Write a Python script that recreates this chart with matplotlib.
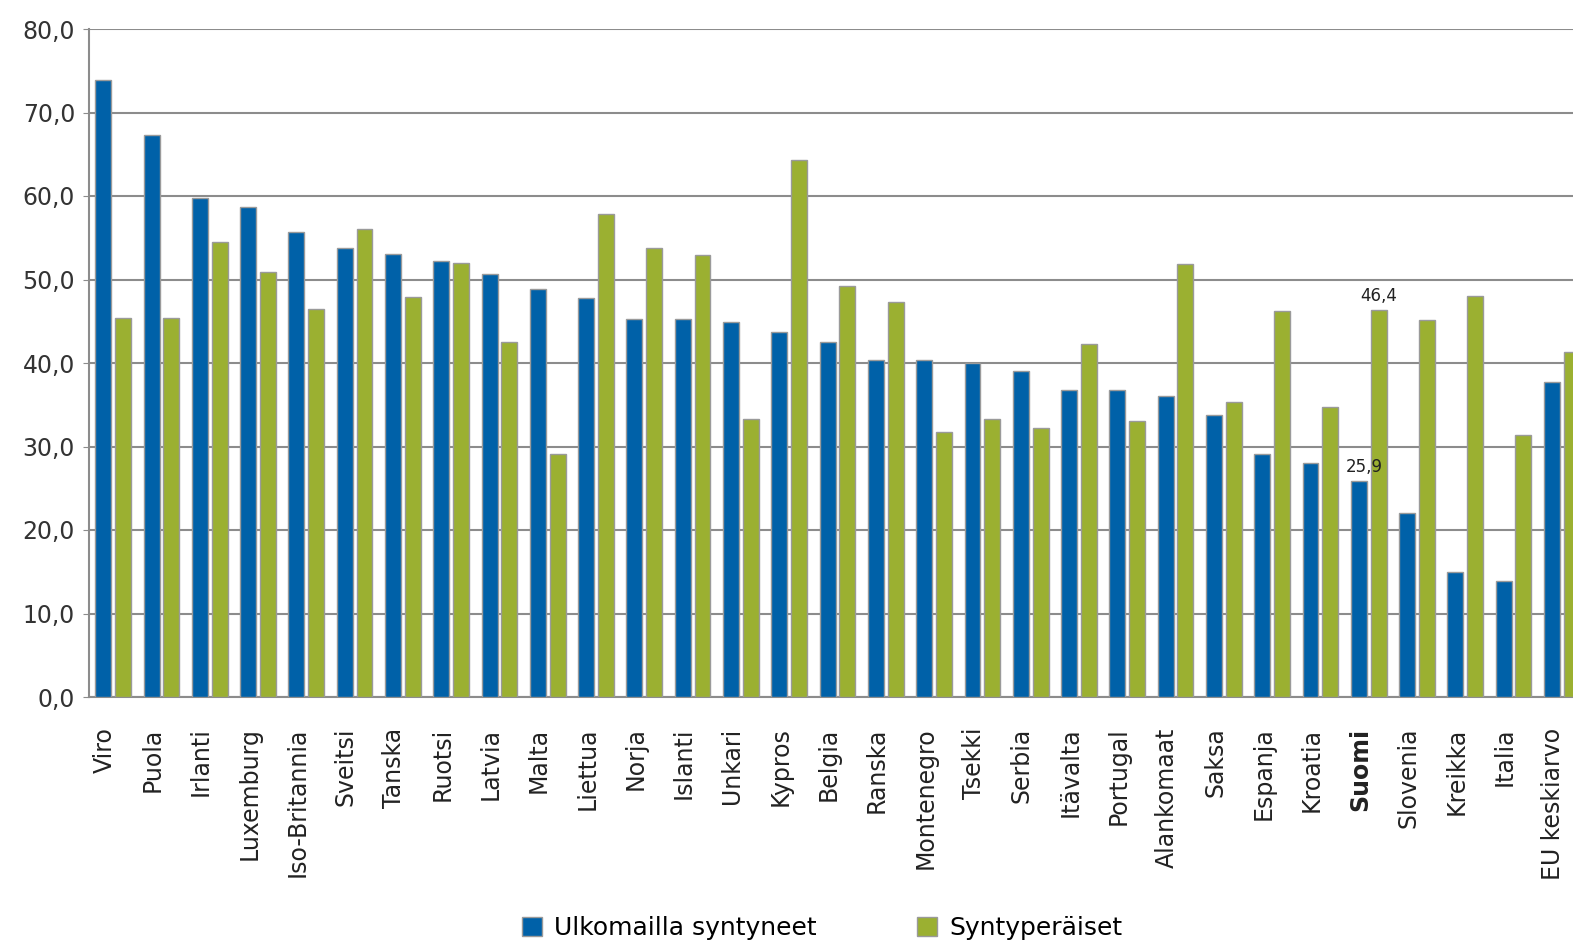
import matplotlib.pyplot as plt
import numpy as np

plt.rcParams['font.family'] = ['DejaVu Sans']

maat = ["Viro", "Puola", "Irlanti", "Luxemburg", "Iso-Britannia", "Sveitsi", "Tanska",
        "Ruotsi", "Latvia", "Malta", "Liettua", "Norja", "Islanti", "Unkari", "Kypros",
        "Belgia", "Ranska", "Montenegro", "Tsekki", "Serbia", "Itävalta", "Portugal",
        "Alankomaat", "Saksa", "Espanja", "Kroatia", "Suomi", "Slovenia", "Kreikka",
        "Italia", "EU keskiarvo"]
ulkomailla = [73.9, 67.3, 59.8, 58.7, 55.7, 53.8, 53.1, 52.2, 50.7, 48.9, 47.8, 45.3,
              45.3, 44.9, 43.7, 42.5, 40.4, 40.4, 40.0, 39.0, 36.8, 36.8, 36.0, 33.8,
              29.1, 28.0, 25.9, 22.0, 15.0, 13.9, 37.7]
syntyperaiset = [45.4, 45.4, 54.5, 50.9, 46.5, 56.0, 47.9, 52.0, 42.5, 29.1, 57.8, 53.8,
                 52.9, 33.3, 64.3, 49.2, 47.3, 31.7, 33.3, 32.2, 42.3, 33.1, 51.9, 35.3,
                 46.2, 34.7, 46.4, 45.1, 48.0, 31.4, 41.3]

sininen = '#0061a8'
vihrea = '#9bb031'

fig = plt.figure(figsize=(15.73, 9.52), dpi=100)
ax = fig.add_axes([89/1573, 1-697/952, 1497/1573, 668/952])

x = np.arange(len(maat))
w = 0.33
ax.bar(x - 0.04 - w/2, ulkomailla, w, color=sininen, edgecolor='#9a9a9a', linewidth=1, zorder=3,
       label='Ulkomailla syntyneet')
ax.bar(x + 0.04 + w/2, syntyperaiset, w, color=vihrea, edgecolor='#9a9a9a', linewidth=1, zorder=3,
       label='Syntyperäiset')

i = maat.index("Suomi")
ax.text(i - 0.1, ulkomailla[i] + 0.6, "25,9", ha='center', va='bottom', fontsize=12, color='#222222')
ax.text(i + 0.04 + w/2, syntyperaiset[i] + 0.6, "46,4", ha='center', va='bottom', fontsize=12,
        color='#222222')

ax.set_xlim(-0.5, len(maat) - 0.5)
ax.set_ylim(0, 80)
ax.set_yticks(np.arange(0, 81, 10))
ax.set_yticklabels([f"{v:.1f}".replace('.', ',') for v in np.arange(0, 81, 10)], fontsize=17,
                   color='#333333')
ax.yaxis.grid(True, color='#8c8c8c', linewidth=1.5, zorder=0)
ax.set_xticks(x - 0.18)
ax.set_xticklabels(maat, rotation=90, fontsize=17, color='#222222')
for lab in ax.get_xticklabels():
    if lab.get_text() == "Suomi":
        lab.set_fontweight('bold')
ax.tick_params(axis='x', length=0, pad=22)
ax.tick_params(axis='y', length=4, color='#8c8c8c', pad=6)
for s in ['top', 'right']:
    ax.spines[s].set_visible(False)
for s in ['left', 'bottom']:
    ax.spines[s].set_color('#8c8c8c')
    ax.spines[s].set_linewidth(1.5)

fig.legend(loc='center', bbox_to_anchor=(822/1573, 1-928/952), ncol=2, frameon=False,
           fontsize=18, handlelength=0.8, handleheight=0.8, columnspacing=4.0, handletextpad=0.5)

fig.savefig('out.png', dpi=100)
